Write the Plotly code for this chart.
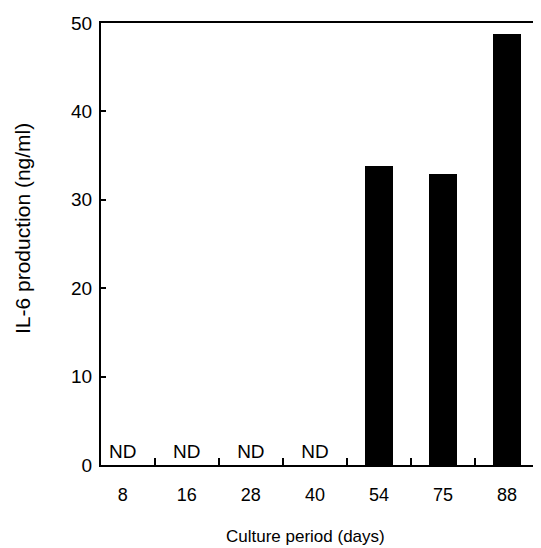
import plotly.graph_objects as go

categories = ["8", "16", "28", "40", "54", "75", "88"]
il6_values = [0, 0, 0, 0, 33.8, 32.9, 48.8]
nd_labels = ["ND", "ND", "ND", "ND", "", "", ""]
y_ticks = [0, 10, 20, 30, 40, 50]

font_family = "Liberation Sans, Arial, Helvetica, sans-serif"

fig = go.Figure()
fig.add_trace(go.Bar(
    x=categories, y=il6_values, width=0.44,
    marker=dict(color="black", line=dict(width=0)),
    showlegend=False,
))
fig.add_trace(go.Scatter(
    x=[c for c, t in zip(categories, nd_labels) if t],
    y=[0.3 for t in nd_labels if t],
    text=[t for t in nd_labels if t],
    mode="text", textposition="top center",
    textfont=dict(size=19, color="black", family=font_family),
    showlegend=False, cliponaxis=False,
))

# page body has an 8px default margin, so the figure is sized to fill the rest of the window
fig.update_layout(
    width=533, height=540,
    margin=dict(l=93, r=0, t=15, b=83),
    plot_bgcolor="white", paper_bgcolor="white",
    font=dict(family=font_family, color="black", size=18),
    bargap=0,
    annotations=[
        dict(text="IL-6 production (ng/ml)", xref="paper", yref="paper",
             x=-79 / 440, y=(465 - 229) / 442, xanchor="center", yanchor="middle",
             textangle=-90, showarrow=False, font=dict(size=21)),
        dict(text="Culture period (days)", xref="paper", yref="paper",
             x=(305 - 101) / 440, y=-(536 - 465) / 442, xanchor="center", yanchor="middle",
             showarrow=False, font=dict(size=17)),
    ],
)
fig.update_xaxes(
    type="category", range=[-0.34, 6.53], automargin=False,
    showline=True, linecolor="black", linewidth=2, mirror=True,
    ticks="inside", tickson="boundaries", ticklen=7, tickwidth=1.5, tickcolor="black",
    tickfont=dict(size=18), showgrid=False, ticklabelstandoff=12,
)
fig.update_yaxes(
    range=[0, 50], tickvals=y_ticks, automargin=False,
    showline=True, linecolor="black", linewidth=2,
    ticks="inside", ticklen=5, tickwidth=1.5, tickcolor="black",
    tickfont=dict(size=19), showgrid=False, zeroline=False, ticklabelstandoff=3,
)

fig.write_html("out.html")
